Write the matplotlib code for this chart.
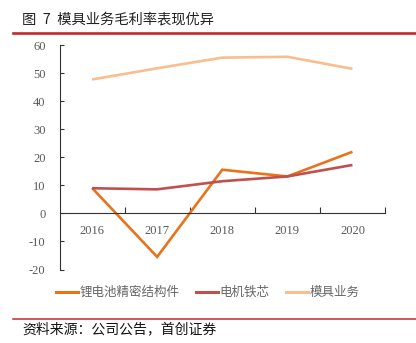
import matplotlib
matplotlib.use("Agg")
import matplotlib.pyplot as plt
from matplotlib.lines import Line2D
from matplotlib.ticker import FixedLocator, NullFormatter

plt.rcParams['font.family'] = ['Noto Sans CJK SC', 'DejaVu Sans']

years = ['2016', '2017', '2018', '2019', '2020']
lithium_parts = [9.1, -15.5, 15.6, 13.2, 22.0]   # 锂电池精密结构件
motor_core = [9.0, 8.6, 11.5, 13.2, 17.3]        # 电机铁芯
mold_business = [47.8, 51.8, 55.6, 55.9, 51.6]   # 模具业务
series_names = ['锂电池精密结构件', '电机铁芯', '模具业务']
series_colors = ['#E8731A', '#C0504D', '#F9BE8E']
y_ticks = [-20, -10, 0, 10, 20, 30, 40, 50, 60]

fig = plt.figure(figsize=(4.16, 3.43), dpi=100)
ax = fig.add_axes([59.5 / 416, 1 - 269.5 / 343, (385 - 59.5) / 416, (269.5 - 45.3) / 343])

x = list(range(len(years)))
for vals, c in zip([lithium_parts, motor_core, mold_business], series_colors):
    ax.plot(x, vals, color=c, lw=1.9, solid_joinstyle='miter', solid_capstyle='butt')

ax.set_xlim(-0.5, len(years) - 0.5)
ax.set_ylim(-20, 60)
ax.set_yticks(y_ticks)
ax.set_yticklabels([str(v) for v in y_ticks], family='Liberation Serif', fontsize=9, color='#595959')
ax.tick_params(axis='y', direction='in', length=3, width=0.8, pad=10, color='#333333')

ax.spines['top'].set_visible(False)
ax.spines['right'].set_visible(False)
ax.spines['bottom'].set_position(('data', 0))
for s in ('left', 'bottom'):
    ax.spines[s].set_color('#333333')
    ax.spines[s].set_linewidth(0.8)

ax.set_xticks(x)
ax.set_xticklabels(years, family='Liberation Serif', fontsize=9, color='#595959')
ax.tick_params(axis='x', which='major', length=0, pad=8)
ax.xaxis.set_minor_locator(FixedLocator([i + 0.5 for i in x]))
ax.xaxis.set_minor_formatter(NullFormatter())
ax.tick_params(axis='x', which='minor', direction='in', length=4, width=0.8, color='#333333')

handles = [Line2D([], [], color=c, lw=2.2) for c in series_colors]
fig.legend(handles, series_names, loc='center', bbox_to_anchor=(0.5, 1 - 292.5 / 343),
           ncol=3, frameon=False, fontsize=9, handlelength=1.75, handletextpad=0.1,
           columnspacing=1.35, labelcolor='#666666')

fig.text(22 / 416, 1 - 19 / 343, '图  7  模具业务毛利率表现优异', fontsize=10.3,
         color='#222222', va='center', ha='left')
fig.add_artist(Line2D([13 / 416, 1.0], [1 - 33 / 343, 1 - 33 / 343], color='#C8262B', lw=1.9))
fig.add_artist(Line2D([13 / 416, 1.0], [1 - 318.5 / 343, 1 - 318.5 / 343], color='#C8262B', lw=1.1))
fig.text(22 / 416, 1 - 329 / 343, '资料来源：公司公告，首创证券', fontsize=10, style='italic',
         color='#111111', va='center', ha='left')

fig.savefig('out.png', dpi=100)
